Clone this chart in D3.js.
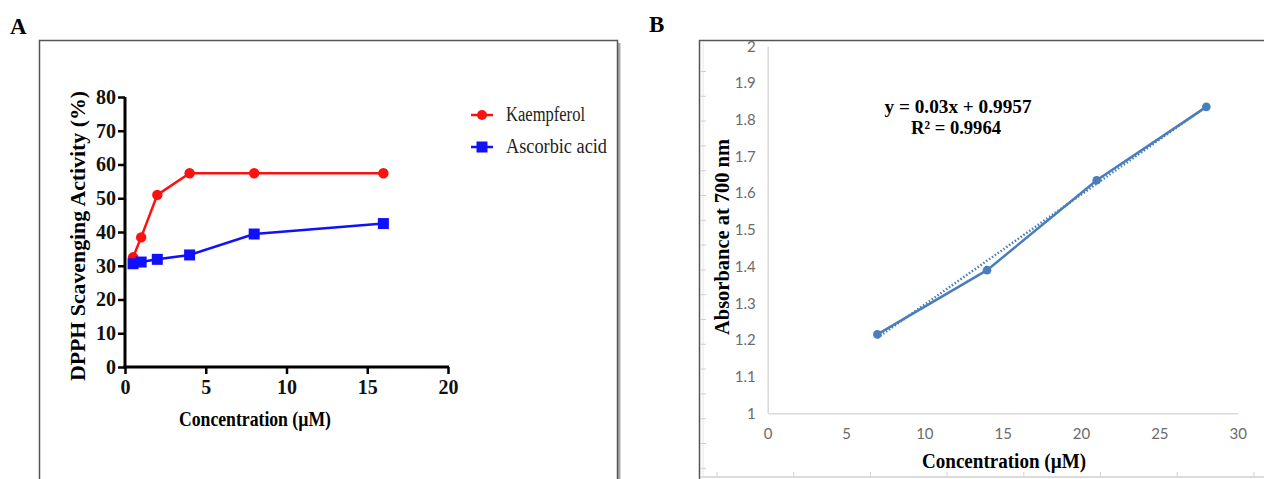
<!DOCTYPE html>
<html><head><meta charset="utf-8">
<script src="https://cdn.jsdelivr.net/npm/d3@7"></script>
<style>
html,body{margin:0;padding:0;background:#fff;}
svg{display:block;}
</style></head>
<body>
<svg id="chart" width="1264" height="479"></svg>
<script>
// ---------- Panel A data ----------
const concA = [0.5, 1, 2, 4, 8, 16];
const kaempferol = [32.5, 38.4, 51.0, 57.4, 57.4, 57.4];
const ascorbic = [30.6, 31.1, 31.9, 33.2, 39.4, 42.5];
const seriesNamesA = ["Kaempferol", "Ascorbic acid"];
const xTicksA = [0, 5, 10, 15, 20];
const yTicksA = [0, 10, 20, 30, 40, 50, 60, 70, 80];

// ---------- Panel B data ----------
const concB = [7, 14, 21, 28];
const absorbance = [1.215, 1.39, 1.635, 1.835];
const fitSlope = 0.03, fitIntercept = 0.9957;
const fitText = ["y = 0.03x + 0.9957", "R\u00B2 = 0.9964"];
const xTicksB = [0, 5, 10, 15, 20, 25, 30];
const yTicksB = [1, 1.1, 1.2, 1.3, 1.4, 1.5, 1.6, 1.7, 1.8, 1.9, 2];

const svg = d3.select("#chart");
const serif = "'Liberation Serif','Times New Roman',serif";
const sans = "Lato,'Liberation Sans',sans-serif";

// ================= Panel A =================
svg.append("text").attr("x", 10).attr("y", 34).text("A")
  .attr("font-family", serif).attr("font-weight", "bold").attr("font-size", 23);
// frame with shadow
svg.append("line").attr("x1", 619).attr("x2", 619).attr("y1", 43).attr("y2", 479)
  .attr("stroke", "#aaa").attr("stroke-width", 3);
svg.append("rect").attr("x", 39.5).attr("y", 40.5).attr("width", 578).attr("height", 470)
  .attr("fill", "none").attr("stroke", "#555").attr("stroke-width", 1.5);

const xA = d3.scaleLinear().domain([0, 20]).range([125, 448]);
const yA = d3.scaleLinear().domain([0, 80]).range([367, 97]);

const gxA = svg.append("g").attr("transform", `translate(0,${yA(0)})`)
  .call(d3.axisBottom(xA).tickValues(xTicksA).tickSize(7).tickPadding(6).tickSizeOuter(0));
const gyA = svg.append("g").attr("transform", `translate(${xA(0)},0)`)
  .call(d3.axisLeft(yA).tickValues(yTicksA).tickSize(7).tickPadding(2).tickSizeOuter(0));
[gxA, gyA].forEach(g => {
  g.select(".domain").attr("stroke", "#000").attr("stroke-width", 3);
  g.selectAll(".tick line").attr("stroke", "#000").attr("stroke-width", 2.5);
  g.selectAll(".tick text").attr("font-family", serif).attr("font-weight", "bold")
    .attr("font-size", 20).attr("fill", "#111");
});
gxA.select(".domain").attr("d", `M${xA(0)-1.5},0H${xA(20)+1}`);
gyA.select(".domain").attr("d", `M0,${yA(80)}V${yA(0)+1.5}`);

svg.append("text").attr("x", 255).attr("y", 426).attr("text-anchor", "middle")
  .attr("font-family", serif).attr("font-weight", "bold").attr("font-size", 21)
  .attr("textLength", 152).attr("lengthAdjust", "spacingAndGlyphs")
  .text("Concentration (\u00B5M)");
svg.append("text").attr("transform", "translate(85,236) rotate(-90)").attr("text-anchor", "middle")
  .attr("font-family", serif).attr("font-weight", "bold").attr("font-size", 20)
  .attr("textLength", 290).attr("lengthAdjust", "spacingAndGlyphs")
  .text("DPPH Scavenging Activity (%)");

const lineA = d3.line().x(d => xA(d[0])).y(d => yA(d[1]));
const kData = concA.map((c, i) => [c, kaempferol[i]]);
const aData = concA.map((c, i) => [c, ascorbic[i]]);
const red = "#ff1010", blue = "#1010ff";
svg.append("path").datum(kData).attr("d", lineA).attr("fill", "none")
  .attr("stroke", red).attr("stroke-width", 2.5);
svg.selectAll(".kpt").data(kData).enter().append("circle").attr("class", "kpt")
  .attr("cx", d => xA(d[0])).attr("cy", d => yA(d[1])).attr("r", 5.2).attr("fill", red);
svg.append("path").datum(aData).attr("d", lineA).attr("fill", "none")
  .attr("stroke", blue).attr("stroke-width", 2.5);
svg.selectAll(".apt").data(aData).enter().append("rect").attr("class", "apt")
  .attr("x", d => xA(d[0]) - 5.5).attr("y", d => yA(d[1]) - 5.5)
  .attr("width", 11).attr("height", 11).attr("fill", blue);

// legend
const legY = [115, 147];
seriesNamesA.forEach((name, i) => {
  const col = i === 0 ? red : blue;
  svg.append("line").attr("x1", 471).attr("x2", 493).attr("y1", legY[i]).attr("y2", legY[i])
    .attr("stroke", col).attr("stroke-width", 2.5);
  if (i === 0) svg.append("circle").attr("cx", 482).attr("cy", legY[i]).attr("r", 5).attr("fill", col);
  else svg.append("rect").attr("x", 476.5).attr("y", legY[i] - 5.5).attr("width", 11).attr("height", 11).attr("fill", col);
  svg.append("text").attr("x", 506).attr("y", legY[i] + 6).text(name)
    .attr("font-family", serif).attr("font-size", 20).attr("fill", "#222")
    .attr("textLength", i === 0 ? 79 : 101).attr("lengthAdjust", "spacingAndGlyphs");
});

// ================= Panel B =================
svg.append("text").attr("x", 649).attr("y", 32).text("B")
  .attr("font-family", serif).attr("font-weight", "bold").attr("font-size", 23);
// frame
svg.append("line").attr("x1", 699).attr("x2", 1264).attr("y1", 40.5).attr("y2", 40.5)
  .attr("stroke", "#555").attr("stroke-width", 1.5);
svg.append("line").attr("x1", 699.5).attr("x2", 699.5).attr("y1", 40).attr("y2", 479)
  .attr("stroke", "#555").attr("stroke-width", 1.5);
svg.append("line").attr("x1", 703).attr("x2", 703).attr("y1", 42).attr("y2", 477)
  .attr("stroke", "#e6e6e6").attr("stroke-width", 1);
svg.append("line").attr("x1", 700).attr("x2", 1264).attr("y1", 477).attr("y2", 477)
  .attr("stroke", "#d0d0d0").attr("stroke-width", 1.5);
const leftMarks = d3.range(71.5, 476, 24.8);
svg.selectAll(".lm").data(leftMarks).enter().append("line").attr("class", "lm")
  .attr("x1", 700).attr("x2", 706).attr("y1", d => d).attr("y2", d => d)
  .attr("stroke", "#d0d0d0").attr("stroke-width", 1);
const botMarks = d3.range(717, 1264, 76.7);
svg.selectAll(".bm").data(botMarks).enter().append("line").attr("class", "bm")
  .attr("x1", d => d).attr("x2", d => d).attr("y1", 472).attr("y2", 477)
  .attr("stroke", "#d0d0d0").attr("stroke-width", 1);

const xB = d3.scaleLinear().domain([0, 30]).range([767.7, 1237.7]);
const yB = d3.scaleLinear().domain([1, 2]).range([413.3, 46.3]);

const gxB = svg.append("g").attr("transform", `translate(0,${yB(1)})`)
  .call(d3.axisBottom(xB).tickValues(xTicksB).tickSize(0).tickPadding(15).tickSizeOuter(0));
const gyB = svg.append("g").attr("transform", `translate(${xB(0)},0)`)
  .call(d3.axisLeft(yB).tickValues(yTicksB).tickSize(0).tickPadding(12).tickSizeOuter(0)
    .tickFormat(d => String(+d.toFixed(1))));
[gxB, gyB].forEach(g => {
  g.select(".domain").attr("stroke", "#d9d9d9").attr("stroke-width", 1.5);
  g.selectAll(".tick text").attr("font-family", sans).attr("font-size", 15).attr("fill", "#6b6b6b");
});

svg.append("text").attr("x", 1004).attr("y", 468).attr("text-anchor", "middle")
  .attr("font-family", serif).attr("font-weight", "bold").attr("font-size", 20)
  .attr("textLength", 164).attr("lengthAdjust", "spacingAndGlyphs")
  .text("Concentration (\u00B5M)");
svg.append("text").attr("transform", "translate(729,237) rotate(-90)").attr("text-anchor", "middle")
  .attr("font-family", serif).attr("font-weight", "bold").attr("font-size", 20)
  .attr("textLength", 196).attr("lengthAdjust", "spacingAndGlyphs")
  .text("Absorbance at 700 nm");

const steel = "#4a7ebb";
// trendline (dotted)
const fitData = [concB[0], concB[concB.length - 1]].map(x => [x, fitSlope * x + fitIntercept]);
const lineB = d3.line().x(d => xB(d[0])).y(d => yB(d[1]));
svg.append("path").datum(fitData).attr("d", lineB).attr("fill", "none")
  .attr("stroke", steel).attr("stroke-width", 2.5).attr("stroke-dasharray", "1.5,2");
const bData = concB.map((c, i) => [c, absorbance[i]]);
svg.append("path").datum(bData).attr("d", lineB).attr("fill", "none")
  .attr("stroke", steel).attr("stroke-width", 2.5);
svg.selectAll(".bpt").data(bData).enter().append("circle").attr("class", "bpt")
  .attr("cx", d => xB(d[0])).attr("cy", d => yB(d[1])).attr("r", 4.3).attr("fill", steel);

svg.append("text").attr("x", 958).attr("y", 113).attr("text-anchor", "middle")
  .attr("font-family", serif).attr("font-weight", "bold").attr("font-size", 19)
  .attr("textLength", 147).attr("lengthAdjust", "spacingAndGlyphs").text(fitText[0]);
svg.append("text").attr("x", 956).attr("y", 134).attr("text-anchor", "middle")
  .attr("font-family", serif).attr("font-weight", "bold").attr("font-size", 19)
  .attr("textLength", 90).attr("lengthAdjust", "spacingAndGlyphs").text(fitText[1]);
</script>
</body></html>
